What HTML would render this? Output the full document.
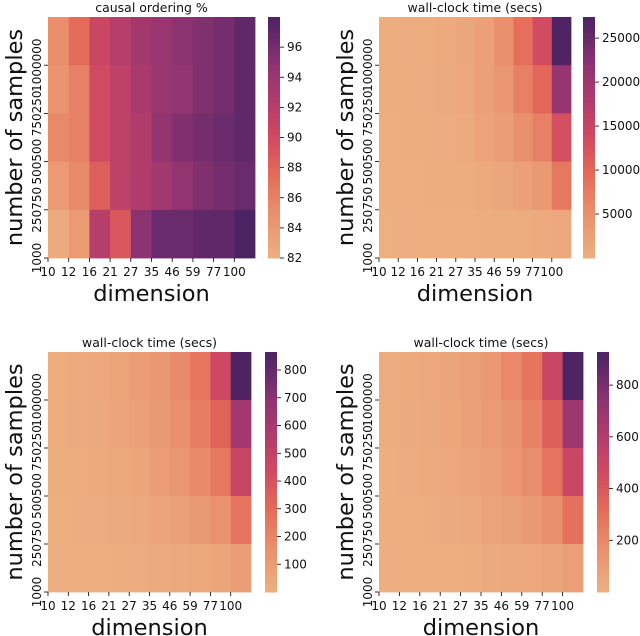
<!DOCTYPE html>
<html><head><meta charset="utf-8"><style>
body{margin:0;background:#fff;}
svg{display:block;font-family:"DejaVu Sans","Liberation Sans",sans-serif;}
</style></head><body>
<svg id="fig" width="640" height="636" viewBox="0 0 640 636"></svg>
<script>
const dims = ["10","12","16","21","27","35","46","59","77","100"];
const sampleLabels = ["1000","250750","500500","750250","1000000"];
// rows listed top (1000000) to bottom (1000)
const causalOrdering = [
 [85,87.5,90.5,92,93.5,94,95,95.5,96,97],
 [84.5,86,90,91.5,93,94,94.5,95.5,96,97],
 [85.5,86,90,91.5,92.5,94.5,95.5,96,96.5,97],
 [84,85.5,88.5,91.5,92.5,93.5,94.5,95.5,96,96.5],
 [82.5,84,92,89,95,96.5,96.5,97,97,98]];
const wallClockA = [
 [500,600,700,900,1500,2500,5000,9000,13500,27000],
 [400,500,600,800,1200,2500,4000,7000,10000,21000],
 [300,400,500,600,1000,2000,3000,5000,7000,13000],
 [200,300,400,500,700,1000,1500,2500,3500,8000],
 [50,100,150,200,300,400,500,700,900,1200]];
const wallClockB = [
 [20,30,40,60,90,120,180,260,450,860],
 [15,25,35,55,80,110,160,230,330,620],
 [12,20,30,45,60,90,130,180,250,480],
 [8,12,18,25,35,60,80,110,150,270],
 [3,5,8,12,18,25,35,45,60,90]];
const wallClockC = [
 [20,30,40,60,90,120,200,280,500,920],
 [15,25,35,55,80,110,150,230,370,680],
 [12,20,30,45,60,90,130,180,290,500],
 [8,12,18,25,35,60,80,120,170,300],
 [3,5,8,12,18,25,35,45,60,90]];
const ticks1 = [82,84,86,88,90,92,94,96];
const ticks2 = [5000,10000,15000,20000,25000];
const ticks3 = [100,200,300,400,500,600,700,800];
const ticks4 = [200,400,600,800];

const stops=[[0,237,176,129],[0.2,233,141,107],[0.35,228,106,88],[0.5,209,74,97],[0.65,177,60,108],[0.8,143,51,113],[0.9,108,43,109],[1,75,35,98]];
function cmap(t){t=Math.max(0,Math.min(1,t));for(let i=1;i<stops.length;i++){if(t<=stops[i][0]){const a=stops[i-1],b=stops[i],f=(t-a[0])/(b[0]-a[0]);return `rgb(${Math.round(a[1]+f*(b[1]-a[1]))},${Math.round(a[2]+f*(b[2]-a[2]))},${Math.round(a[3]+f*(b[3]-a[3]))})`;}}return 'rgb(75,35,98)';}
const NS="http://www.w3.org/2000/svg",svg=document.getElementById('fig');
function el(tag,attrs,parent,txt){const e=document.createElementNS(NS,tag);for(const k in attrs)e.setAttribute(k,attrs[k]);if(txt!==undefined)e.textContent=txt;(parent||svg).appendChild(e);return e;}

const panels=[
 {name:'causal-ordering',title:'causal ordering %',data:causalOrdering,ticks:ticks1,vmin:82,vmax:98,x0:48,x1:255,y0:17,y1:258,cb:268,ylx:14},
 {name:'wall-clock-a',title:'wall-clock time (secs)',data:wallClockA,ticks:ticks2,vmin:0,vmax:27400,x0:379,x1:571,y0:17,y1:258,cb:583,ylx:345},
 {name:'wall-clock-b',title:'wall-clock time (secs)',data:wallClockB,ticks:ticks3,vmin:0,vmax:865,x0:48,x1:251,y0:352,y1:592,cb:265,ylx:14},
 {name:'wall-clock-c',title:'wall-clock time (secs)',data:wallClockC,ticks:ticks4,vmin:0,vmax:928,x0:379,x1:583,y0:352,y1:592,cb:597,ylx:345}];

panels.forEach(p=>{
 const g=el('g',{});
 
 
 const nc=dims.length,nr=p.data.length;
 const cw=(p.x1-p.x0)/nc,rh=(p.y1-p.y0)/nr;
 const xS=i=>p.x0+i*cw, yS=j=>p.y0+j*rh;
 const norm=v=>(v-p.vmin)/(p.vmax-p.vmin);
 p.data.forEach((row,j)=>row.forEach((v,i)=>{
  const r=el('rect',{x:xS(i),y:yS(j),width:cw+0.4,height:rh+0.4,fill:cmap(norm(v))},g);
  
  
 }));
 const t=el('text',{x:(p.x0+p.x1)/2,y:p.y0-5,'text-anchor':'middle','font-size':12.5,fill:'#111'},g,p.title);
 
 
 dims.forEach((d,i)=>{
  el('line',{x1:xS(i),x2:xS(i),y1:p.y1,y2:p.y1+4,stroke:'#000','stroke-width':0.8},g);
  const tx=el('text',{x:xS(i),y:p.y1+18,'text-anchor':'middle','font-size':12,fill:'#111'},g,d);
  
  
 });
 sampleLabels.forEach((s,k)=>{
  const y=p.y1-k*rh;
  el('line',{x1:p.x0-4,x2:p.x0,y1:y,y2:y,stroke:'#000','stroke-width':0.8},g);
  const ty=el('text',{x:0,y:0,transform:`translate(${p.x0-7},${y}) rotate(-90)`,'text-anchor':'middle','font-size':12,fill:'#111'},g,s);
  
  
 });
 const xl=el('text',{x:(p.x0+p.x1)/2,y:p.y1+43,'text-anchor':'middle','font-size':22.5,fill:'#111'},g,'dimension');
 
 
 const yl=el('text',{x:0,y:0,transform:`translate(${p.ylx+8},${(p.y0+p.y1)/2}) rotate(-90)`,'text-anchor':'middle','font-size':22.5,fill:'#111'},g,'number of samples');
 
 
 const cbg=el('g',{},g);
 
 
 const N=60,h=(p.y1-p.y0)/N;
 for(let k=0;k<N;k++){el('rect',{x:p.cb,y:p.y1-(k+1)*h,width:12,height:h+0.5,fill:cmap((k+0.5)/N)},cbg);}
 const cy=v=>p.y1-norm(v)*(p.y1-p.y0);
 p.ticks.forEach(v=>{
  el('line',{x1:p.cb+12,x2:p.cb+16,y1:cy(v),y2:cy(v),stroke:'#000','stroke-width':0.8},cbg);
  const ct=el('text',{x:p.cb+19,y:cy(v)+4,'font-size':12,fill:'#111'},cbg,String(v));
  
  
 });
});
</script>
</body></html>
